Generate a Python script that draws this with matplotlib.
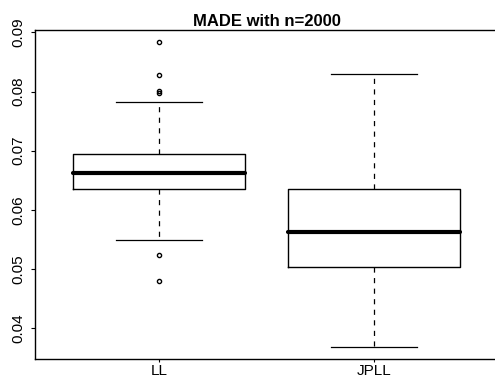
import matplotlib
matplotlib.use("Agg")
import matplotlib.pyplot as plt

plt.rcParams['font.family'] = ['Liberation Sans', 'DejaVu Sans']
plt.rcParams['lines.scale_dashes'] = False

categories = ["LL", "JPLL"]
whisker_low = [0.0549, 0.0369]
q1 = [0.0636, 0.0503]
median = [0.0663, 0.0563]
q3 = [0.0694, 0.0635]
whisker_high = [0.0783, 0.0829]
outliers = [[0.0883, 0.0828, 0.0801, 0.0797, 0.0523, 0.0480], []]
yticks = [0.04, 0.05, 0.06, 0.07, 0.08, 0.09]
title = "MADE with n=2000"

stats = []
for i, name in enumerate(categories):
    stats.append(dict(label=name, whislo=whisker_low[i], q1=q1[i], med=median[i],
                      q3=q3[i], whishi=whisker_high[i], fliers=outliers[i]))

fig = plt.figure(figsize=(4.95, 3.8), dpi=100)
ax = fig.add_axes([34.7 / 495, 1 - 359 / 380, (498.5 - 34.7) / 495, (359 - 30) / 380])

ax.bxp(stats, positions=[1, 2], widths=0.8, capwidths=0.4, showfliers=True,
       boxprops=dict(color='black', linewidth=1.0),
       whiskerprops=dict(color='black', linewidth=0.9, linestyle=(0, (3.7, 3.9))),
       capprops=dict(color='black', linewidth=0.9),
       medianprops=dict(color='black', linewidth=3.0, solid_capstyle='round'),
       flierprops=dict(marker='o', markersize=3.0, markerfacecolor='none',
                       markeredgecolor='black', markeredgewidth=1.0, linestyle='none'))

ax.set_xlim(0.42, 2.58)
ax.set_ylim(0.03481, 0.09039)
ax.set_yticks(yticks)
ax.set_yticklabels([f"{v:.2f}" for v in yticks], rotation=90, va='center', fontsize=11)
ax.set_xticks([1, 2])
ax.set_xticklabels(categories, fontsize=11)
ax.tick_params(axis='y', length=3, width=0.8, pad=4, colors='black')
ax.tick_params(axis='x', length=2.5, width=0.8, pad=1, colors='black')
for s in ax.spines.values():
    s.set_linewidth(1.0)
    s.set_color('black')
ax.spines['right'].set_visible(False)

ax.set_title(title, fontsize=12, fontweight='bold', pad=3)

fig.savefig("out.png", dpi=100)
